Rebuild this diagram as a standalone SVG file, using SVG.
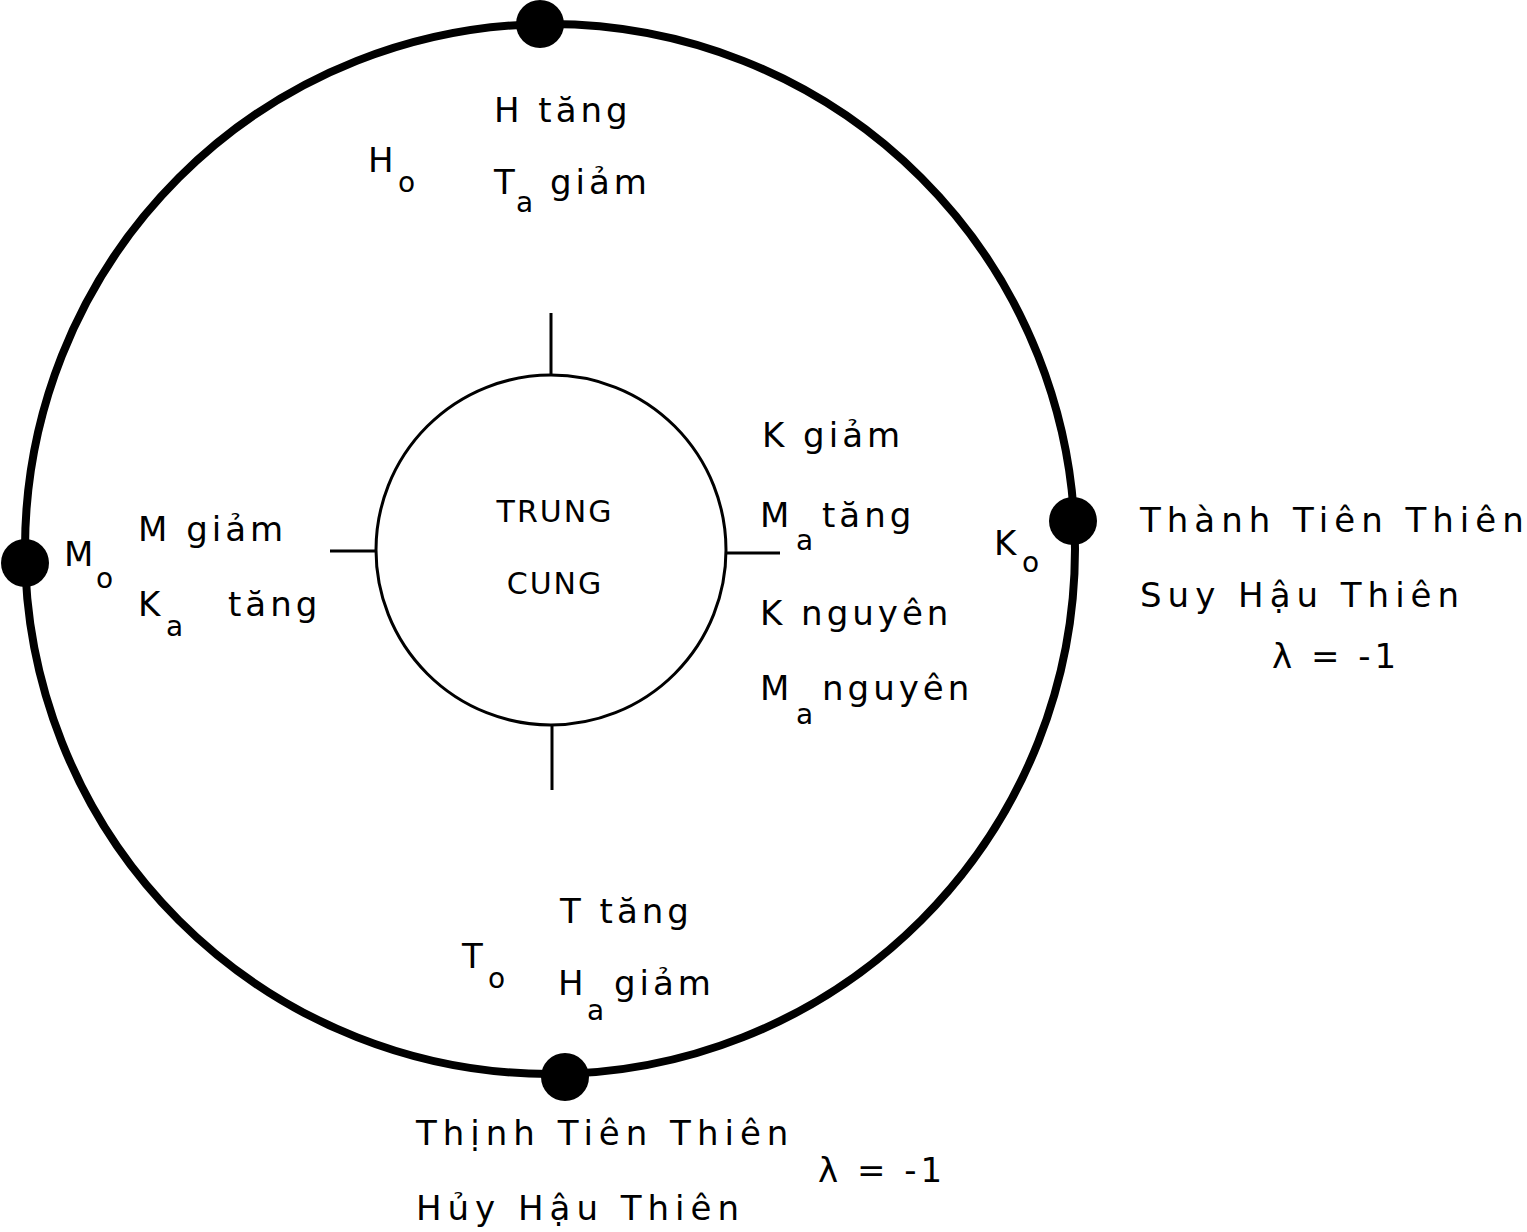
<svg xmlns="http://www.w3.org/2000/svg" width="1527" height="1232" viewBox="0 0 1527 1232">
<style>
text{font-family:"DejaVu Sans","Liberation Sans",sans-serif;font-size:34px;fill:#000;letter-spacing:4px}
.s{font-size:28px}
.dot{fill:#000}
</style>
<rect width="1527" height="1232" fill="#fff"/>
<g id="outer"><circle cx="550" cy="549" r="525" fill="none" stroke="#000" stroke-width="8"/></g>
<g id="inner"><circle cx="551" cy="550" r="175" fill="none" stroke="#000" stroke-width="3"/>
<text x="555" y="522" text-anchor="middle" style="font-size:30px;letter-spacing:2px">TRUNG</text>
<text x="555" y="594" text-anchor="middle" style="font-size:30px;letter-spacing:2px">CUNG</text></g>
<g id="connectors" stroke="#000" stroke-width="3">
<line x1="551" y1="313" x2="551" y2="376"/>
<line x1="552" y1="724" x2="552" y2="790"/>
<line x1="330" y1="551" x2="376" y2="551"/>
<line x1="727" y1="553" x2="780" y2="553"/>
</g>
<g id="top"><circle class="dot" cx="540" cy="24" r="24"/>
<text x="368" y="172">H</text><text class="s" x="398" y="192">o</text>
<text x="494" y="122">H  tăng</text>
<text x="494" y="194">T</text><text class="s" x="516" y="212">a</text><text x="550" y="194">giảm</text></g>
<g id="left"><circle class="dot" cx="25" cy="563" r="24"/>
<text x="64" y="566">M</text><text class="s" x="96" y="588">o</text>
<text x="138" y="541">M  giảm</text>
<text x="138" y="616">K</text><text class="s" x="166" y="636">a</text><text x="228" y="616">tăng</text></g>
<g id="right"><circle class="dot" cx="1073" cy="521" r="24"/>
<text x="994" y="555">K</text><text class="s" x="1022" y="572">o</text>
<text x="762" y="447">K  giảm</text>
<text x="760" y="527">M</text><text class="s" x="796" y="550">a</text><text x="822" y="527">tăng</text>
<text x="760" y="625">K  nguyên</text>
<text x="760" y="700">M</text><text class="s" x="796" y="724">a</text><text x="822" y="700">nguyên</text>
<text x="1140" y="532" style="letter-spacing:6px">Thành Tiên Thiên</text>
<text x="1140" y="607" style="letter-spacing:6px">Suy Hậu Thiên</text>
<text x="1272" y="668">λ = -1</text></g>
<g id="bottom"><circle class="dot" cx="565" cy="1077" r="24"/>
<text x="462" y="968">T</text><text class="s" x="488" y="988">o</text>
<text x="560" y="923">T  tăng</text>
<text x="558" y="995">H</text><text class="s" x="587" y="1020">a</text><text x="614" y="995">giảm</text>
<text x="416" y="1145" style="letter-spacing:6px">Thịnh Tiên Thiên</text>
<text x="416" y="1220" style="letter-spacing:6px">Hủy Hậu Thiên</text>
<text x="818" y="1182">λ = -1</text></g>
</svg>
